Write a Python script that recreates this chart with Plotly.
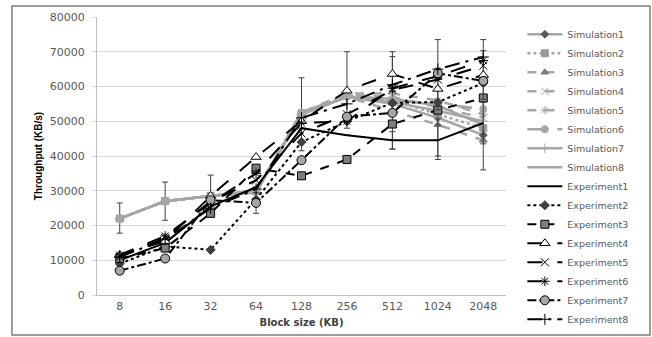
import plotly.graph_objects as go

block_sizes = ["8", "16", "32", "64", "128", "256", "512", "1024", "2048"]

sim1 = [22000, 27000, 28500, 30000, 52000, 57000, 55000, 51000, 46000]
sim2 = [22000, 27000, 28500, 30000, 52000, 57500, 56000, 52000, 48000]
sim3 = [22000, 27000, 28500, 29500, 52000, 57000, 53000, 49000, 44500]
sim4 = [22000, 27000, 28500, 30000, 52500, 57500, 57000, 54000, 51000]
sim5 = [22000, 27000, 28500, 30000, 52500, 58000, 58000, 56000, 52000]
sim6 = [22000, 27000, 28500, 30000, 52500, 57500, 56000, 55000, 53500]
sim7 = [22000, 27000, 28500, 29500, 52000, 57000, 55500, 53000, 50000]
sim8 = [22000, 27000, 28500, 30000, 52000, 57000, 56500, 54500, 49000]

exp1 = [10000, 15000, 25500, 31000, 48000, 46000, 44500, 44500, 49500]
exp2 = [9000, 14000, 13000, 27500, 44000, 50000, 55300, 55500, 61000]
exp3 = [10500, 13500, 23500, 36500, 34300, 39000, 49200, 53200, 56700]
exp4 = [11500, 15500, 28500, 39700, 50000, 58800, 63600, 59300, 63300]
exp5 = [11000, 16500, 27000, 33000, 46500, 52000, 59000, 62000, 66000]
exp6 = [11500, 17000, 26500, 35000, 49500, 50000, 59500, 63000, 67500]
exp7 = [7000, 10500, 27300, 26500, 38800, 51300, 52400, 63800, 61600]
exp8 = [11000, 16000, 25000, 30500, 51000, 55000, 60500, 65000, 68500]

sim6_err_plus = [4500, 5500, 6000, 0, 10000, 12500, 14000, 18500, 20000]
sim6_err_minus = [4200, 5500, 4500, 0, 11000, 9500, 14000, 16000, 17500]
exp7_err = [0, 0, 0, 3000, 0, 0, 0, 0, 0]
exp1_err = [0, 0, 0, 0, 0, 0, 2500, 4500, 6000]
exp4_err = [0, 0, 0, 0, 0, 0, 5000, 6000, 7000]

SIM = "#a6a6a6"
BLK = "#000000"

fig = go.Figure()

def add(name, y, color, dash, symbol, mcolor, mline, width=2.0, size=7, err=None):
    kw = {}
    if err is not None:
        kw["error_y"] = err
    fig.add_trace(go.Scatter(
        x=block_sizes, y=y, name=name, mode="lines+markers" if symbol else "lines",
        line=dict(color=color, dash=dash, width=width),
        marker=dict(symbol=symbol or "circle", size=size, color=mcolor,
                    line=dict(color=mline, width=1)),
        **kw))

eb_style = dict(color="#404040", thickness=1, width=3)

add("Simulation1", sim1, SIM, "solid", "diamond", "#595959", "#595959", 2.5, 6)
add("Simulation2", sim2, SIM, "dot", "square", "#999999", "#999999", 2.5, 7)
add("Simulation3", sim3, SIM, "dash", "triangle-up", "#7f7f7f", "#7f7f7f", 2.5, 7)
add("Simulation4", sim4, SIM, "dash", "x-thin-open", SIM, SIM, 2.5, 7)
add("Simulation5", sim5, SIM, "dash", "asterisk-open", SIM, SIM, 2.5, 7)
add("Simulation6", sim6, SIM, "longdash", "circle", SIM, SIM, 2.5, 7,
    err=dict(type="data", symmetric=False, array=sim6_err_plus,
             arrayminus=sim6_err_minus, **eb_style))
add("Simulation7", sim7, SIM, "solid", "cross-thin-open", SIM, SIM, 2.5, 7)
add("Simulation8", sim8, SIM, "solid", None, SIM, SIM, 2.5, 7)

add("Experiment1", exp1, BLK, "solid", None, BLK, BLK, 2, 7,
    err=dict(type="data", array=exp1_err, **eb_style))
add("Experiment2", exp2, BLK, "dot", "diamond", "#404040", "#404040", 2, 7)
add("Experiment3", exp3, BLK, "dash", "square", "#7f7f7f", BLK, 2, 8)
add("Experiment4", exp4, BLK, "longdash", "triangle-up", "#ffffff", BLK, 2, 9,
    err=dict(type="data", array=exp4_err, **eb_style))
add("Experiment5", exp5, BLK, "longdash", "x-thin-open", BLK, BLK, 2, 8)
add("Experiment6", exp6, BLK, "longdash", "asterisk-open", BLK, BLK, 2, 8)
add("Experiment7", exp7, BLK, "dashdot", "circle", "#a6a6a6", BLK, 2, 9,
    err=dict(type="data", array=exp7_err, **eb_style))
add("Experiment8", exp8, BLK, "longdashdot", "cross-thin-open", BLK, BLK, 2, 8)

fig.update_layout(
    width=652, height=337,
    margin=dict(l=97, r=146, t=17, b=42, autoexpand=False),
    paper_bgcolor="white", plot_bgcolor="white",
    font=dict(family="DejaVu Sans", size=11, color="#595959"),
    showlegend=True,
    legend=dict(x=1.04, xanchor="left", y=0.99, yanchor="top",
                font=dict(family="DejaVu Sans", size=9.5, color="#595959"),
                bgcolor="rgba(0,0,0,0)", itemwidth=35, tracegroupgap=0,
                maxheight=330),
    xaxis=dict(type="category", range=[-0.5, 8.5], showgrid=False,
               showline=True, linecolor="#bfbfbf", linewidth=1,
               ticks="", ticklabelstandoff=1,
               tickfont=dict(size=11, color="#595959"),
               title=dict(text="<b>Block size (KB)</b>", standoff=6,
                          font=dict(family="DejaVu Sans", size=10, color="#404040"))),
    yaxis=dict(range=[0, 80000], dtick=10000, tickformat="d",
               showgrid=True, gridcolor="#d9d9d9",
               gridwidth=1, showline=True, linecolor="#bfbfbf", zeroline=False,
               ticks="outside", ticklen=4, tickcolor="#d9d9d9",
               ticklabelstandoff=5,
               tickfont=dict(size=11, color="#595959"),
               title=dict(text="<b>Throughput (KB/s)</b>", standoff=5,
                          font=dict(family="Liberation Sans", size=10, color="#000000"))),
    shapes=[dict(type="rect", xref="paper", yref="paper",
                 x0=-0.208, x1=1.352, y0=-0.144, y1=1.04,
                 line=dict(color="#7f7f7f", width=1.5), fillcolor="rgba(0,0,0,0)")],
)

fig.write_html("out.html", config={"displayModeBar": False},
               post_script="document.body.style.margin='0';")
